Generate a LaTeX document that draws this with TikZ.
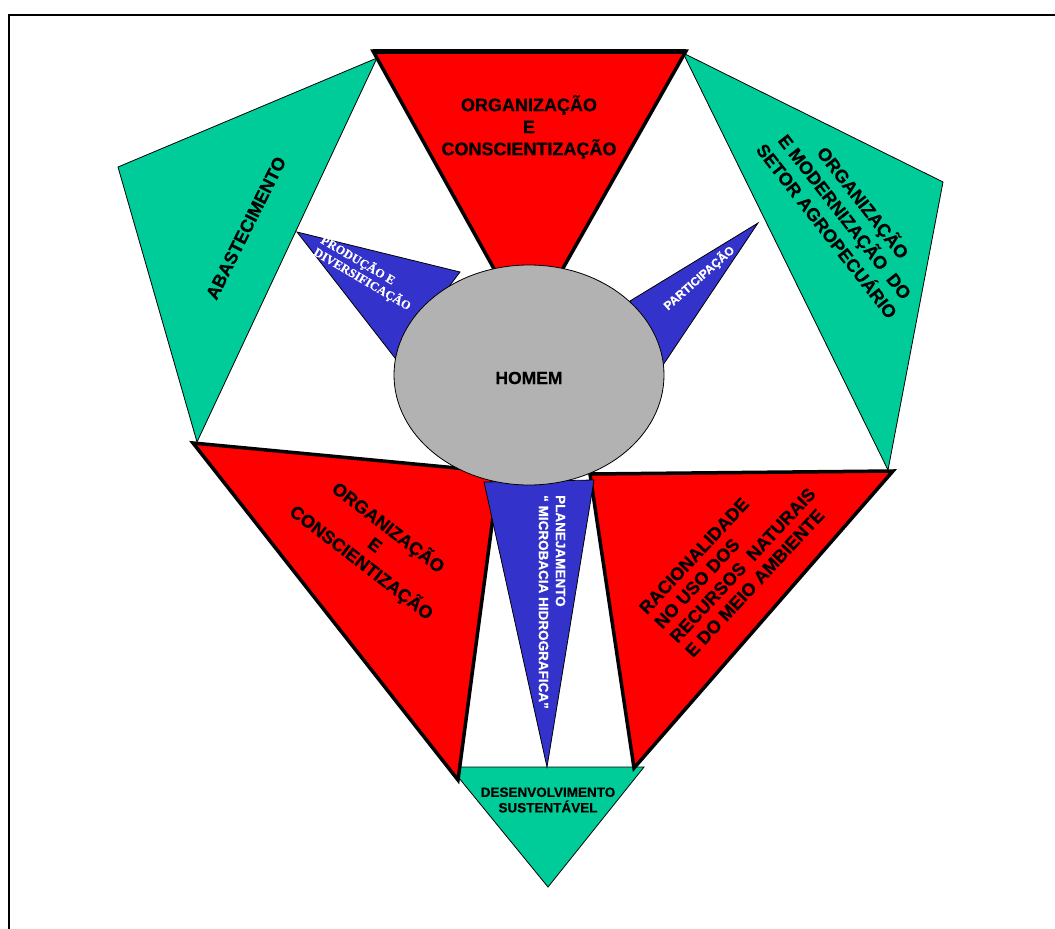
\documentclass[tikz,border=0pt]{standalone}
\usepackage{fontspec}
\setmainfont{Liberation Sans}[BoldFeatures={FakeBold=0.6}]
\newfontfamily\serifbold{Liberation Serif}[BoldFeatures={FakeBold=0.4}]
\usetikzlibrary{shapes.geometric}
\definecolor{tgreen}{RGB}{0,204,153}
\definecolor{tred}{RGB}{255,0,0}
\definecolor{tblue}{RGB}{51,51,204}
\definecolor{tgrey}{RGB}{178,178,178}
\begin{document}
\begin{tikzpicture}[x=1pt,y=-1pt,
  greentri/.style={fill=tgreen,draw=black,line width=0.8pt},
  redtri/.style={fill=tred,draw=black,line width=3.5pt},
  bluetri/.style={fill=tblue,draw=black,line width=0.8pt},
  biglbl/.style={font=\bfseries\fontsize{18}{22}\selectfont,align=center,inner sep=0pt,text=black},
  bluelbl/.style={font=\bfseries\fontsize{13.5}{17}\selectfont,inner sep=0pt,text=white},
  frame/.style={draw=black,line width=2pt}]
\useasboundingbox (0,0) rectangle (1055,929);
\clip (0,0) rectangle (1055,929);
\draw[frame] (9,15) rectangle (1090,960);

% coordinates
\coordinate (tl) at (373,51); \coordinate (tr) at (686,51); \coordinate (tb) at (528,330);
\coordinate (gla) at (377,58); \coordinate (glb) at (118,167); \coordinate (glc) at (197,442);
\coordinate (gra) at (683,53); \coordinate (grb) at (943,182); \coordinate (grc) at (888,470);
\coordinate (bla) at (193,443); \coordinate (blb) at (499,472); \coordinate (blc) at (458,780);
\coordinate (bra) at (590,474); \coordinate (brb) at (893,471); \coordinate (brc) at (634,768);
\coordinate (bba) at (484,482); \coordinate (bbb) at (594,480); \coordinate (bbc) at (547,767);
\coordinate (gba) at (450,767); \coordinate (gbb) at (644,767); \coordinate (gbc) at (548,887);
\coordinate (pla) at (297,232); \coordinate (plb) at (460,272); \coordinate (plc) at (395,358);
\coordinate (pra) at (758,223); \coordinate (prb) at (630,301); \coordinate (prc) at (663,365);

% green triangles
\draw[greentri] (gla) -- (glb) -- (glc) -- cycle;
\draw[greentri] (gra) -- (grb) -- (grc) -- cycle;
\draw[greentri] (gba) -- (gbb) -- (gbc) -- cycle;

% blue side triangles
\draw[bluetri] (pla) -- (plb) -- (plc) -- cycle;
\draw[bluetri] (pra) -- (prb) -- (prc) -- cycle;

% red triangles
\draw[redtri] (tl) -- (tr) -- (tb) -- cycle;
\draw[line width=5pt] (tl) -- (tr);
\draw[redtri] (bla) -- (blb) -- (blc) -- cycle;
\draw[redtri] (bra) -- (brb) -- (brc) -- cycle;

% bottom blue triangle
\draw[bluetri] (bba) -- (bbb) -- (bbc) -- cycle;

% centre ellipse
\node[ellipse,fill=tgrey,draw=black,line width=0.8pt,minimum width=270pt,minimum height=220pt,inner sep=0pt] (homem) at (529,375) {};
\node[biglbl,font=\bfseries\fontsize{17.5}{20}\selectfont] (homemtxt) at (529,378) {HOMEM};

% labels
\node[biglbl] (ltop) at (529,127) {ORGANIZAÇÃO\\E\\CONSCIENTIZAÇÃO};
\node[biglbl,rotate=63.4] (labast) at (246,228) {ABASTECIMENTO};
\node[biglbl,rotate=-52,font=\bfseries\fontsize{18}{23}\selectfont] (lagro) at (846,216) {ORGANIZAÇÃO\\E MODERNIZAÇÃO\ \ DO\\SETOR AGROPECUÁRIO};
\node[biglbl,rotate=-37.5] (lorg2) at (375,545) {ORGANIZAÇÃO\\E\\CONSCIENTIZAÇÃO};
\node[biglbl,rotate=47,align=left,font=\bfseries\fontsize{18}{21}\selectfont] (lrac) at (735,558) {RACIONALIDADE\\NO USO DOS\\RECURSOS\ \ NATURAIS\\E DO MEIO AMBIENTE};
\node[bluelbl,rotate=-90,align=left] (lplan) at (552,602) {PLANEJAMENTO\\“ MICROBACIA HIDROGRAFICA”};
\node[biglbl,font=\bfseries\fontsize{13.5}{15.5}\selectfont] (ldes) at (548,800) {DESENVOLVIMENTO\\SUSTENTÁVEL};
\node[bluelbl,rotate=-30.5,align=left,font=\serifbold\bfseries\fontsize{12.5}{14}\selectfont] (lprod) at (366,273) {PRODUÇÃO E\\DIVERSIFICAÇÃO};
\node[bluelbl,rotate=41.5,font=\bfseries\fontsize{12}{14}\selectfont] (lpart) at (699,278) {PARTICIPAÇÃO};
\end{tikzpicture}
\end{document}
